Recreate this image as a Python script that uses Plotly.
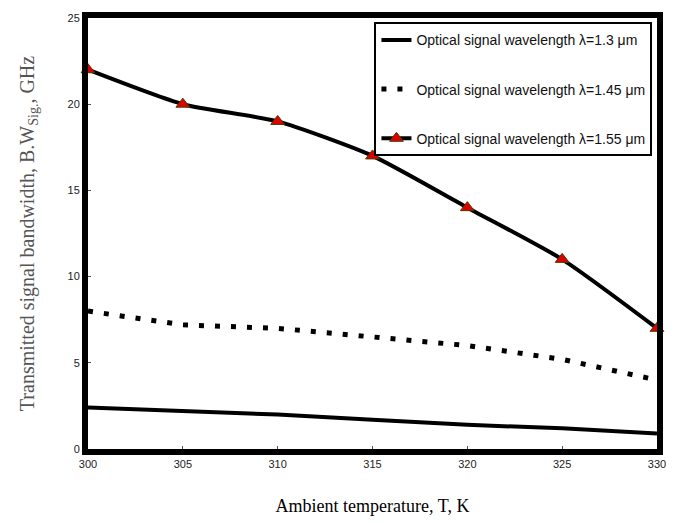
import plotly.graph_objects as go

temps = [300, 305, 310, 315, 320, 325, 330]
bw_130 = [2.4, 2.2, 2.0, 1.7, 1.4, 1.2, 0.9]
bw_145 = [8.0, 7.2, 7.0, 6.5, 6.0, 5.2, 4.0]
bw_155 = [22.0, 20.0, 19.0, 17.0, 14.0, 11.0, 7.0]
names = ["Optical signal wavelength \u03bb=1.3 \u03bcm",
         "Optical signal wavelength \u03bb=1.45 \u03bcm",
         "Optical signal wavelength \u03bb=1.55 \u03bcm"]

narrow = "Liberation Sans Narrow, Arial Narrow, Liberation Sans, sans-serif"
serif = "Liberation Serif, Times New Roman, serif"

fig = go.Figure()
fig.add_trace(go.Scatter(x=temps, y=bw_130, mode="lines", name=names[0],
                         legendgroup="a",
                         line=dict(color="black", width=4)))
fig.add_trace(go.Scatter(x=temps, y=bw_145, mode="lines", name=names[1],
                         legendgroup="b",
                         line=dict(color="black", width=5, dash="5px,11px")))
fig.add_trace(go.Scatter(x=temps, y=bw_155, mode="lines+markers", name=names[2],
                         legendgroup="c", cliponaxis=False,
                         line=dict(color="black", width=4, shape="spline", smoothing=0.6),
                         marker=dict(symbol="triangle-up", size=12, color="#e00000",
                                     line=dict(color="#4a3a00", width=1))))

fig.update_layout(
    width=675, height=523,
    margin=dict(l=88, r=18, t=18, b=74, autoexpand=False),
    paper_bgcolor="white", plot_bgcolor="white",
    showlegend=True,
    legend=dict(x=0.992, y=0.99, xanchor="right", yanchor="top",
                bgcolor="white", bordercolor="black", borderwidth=2,
                font=dict(family=narrow, size=14, color="#111"),
                tracegroupgap=28),
    xaxis=dict(range=[300, 330], tickvals=temps, automargin=False,
               showline=True, linecolor="black", linewidth=6, mirror=True,
               showgrid=False, zeroline=False,
               ticks="inside", ticklen=3, tickcolor="#555",
               tickfont=dict(family=narrow, size=11, color="#222"),
               title=dict(text="Ambient temperature, T, K",
                          font=dict(family=serif, size=18, color="black"),
                          standoff=32)),
    yaxis=dict(range=[0, 25], tickvals=[0, 5, 10, 15, 20, 25], automargin=False,
               showline=True, linecolor="black", linewidth=6, mirror=True,
               showgrid=False, zeroline=False,
               ticks="inside", ticklen=3, tickcolor="#555",
               tickfont=dict(family=narrow, size=11, color="#222"),
               title=dict(text="Transmitted signal bandwidth, B.W<sub>Sig.</sub>, GHz",
                          font=dict(family=serif, size=20, color="#555"),
                          standoff=30)),
)

fig.write_html("out.html")
